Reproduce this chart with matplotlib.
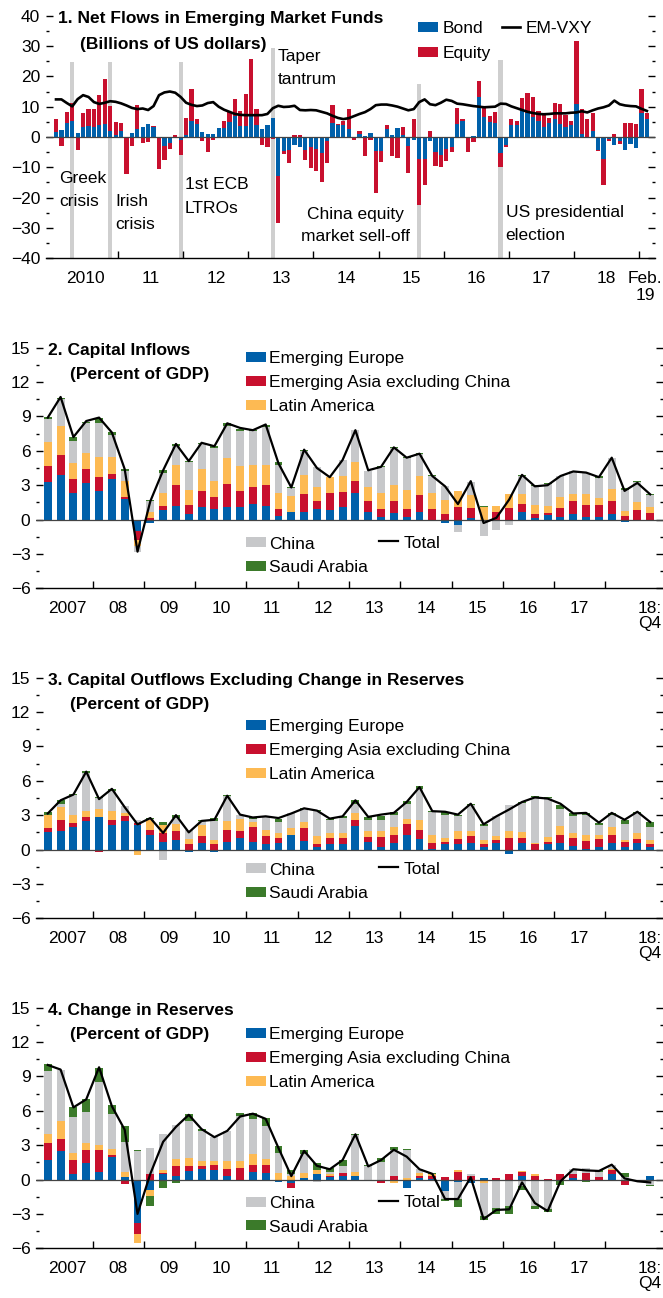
import matplotlib
matplotlib.use('Agg')
import matplotlib.pyplot as plt
import numpy as np
from matplotlib import font_manager as fm
from matplotlib.patches import Rectangle
from matplotlib.lines import Line2D

W, H, DPI = 663, 1298, 100
avail = {f.name for f in fm.fontManager.ttflist}
FAM = 'Liberation Sans' if 'Liberation Sans' in avail else 'DejaVu Sans'
plt.rcParams['font.family'] = [FAM, 'DejaVu Sans']
plt.rcParams['axes.unicode_minus'] = True

BLUE, RED, ORANGE, GRAY, GREEN = '#0060aa', '#c8102e', '#fdba53', '#c7c8ca', '#3b7a2a'
BAND = '#cfcfcf'

# ---------------- Panel 1 data (monthly, Jan 2010 - Feb 2019) ----------------
BOND = [1.7, 2.2, 4.7, 5.2, 1.2, 3.2, 3.7, 3.3, 3.9, 4.4,
        1.9, 0.8, 1.9, -0.3, 1.3, 2.8, 3.3, 4.2, 3.2, -0.3,
        -3.1, -2.0, 0.0, -0.9, 0.8, 5.3, 4.4, 1.6, 1.1, 1.1,
        3.0, 3.1, 5.0, 6.9, 3.5, 3.5, 7.3, 3.8, 2.5, 3.8,
        6.2, -13.0, -4.5, -4.3, -2.6, -3.3, -4.2, -3.3, -3.9, -5.3,
        -1.3, 4.5, 3.9, 3.9, 2.8, -0.3, 1.1, 0.4, 1.3, -4.7,
        -4.7, 2.8, 0.6, 3.1, 0.5, -3.1, -1.1, -7.2, -7.2, -1.3,
        -5.0, -6.1, -3.9, -3.3, 4.2, 5.3, 0.0, 0.4, 13.3, 6.7,
        5.0, 4.7, -5.3, -2.8, 3.9, 3.8, 8.7, 7.8, 6.7, 5.2,
        3.3, 4.7, 6.1, 4.4, 3.3, 3.8, 10.8, 1.0, 0.0, 2.0,
        -4.2, -7.2, -0.7, -2.8, -1.2, -4.2, -2.4, -3.6, 7.8, 5.8]
EQUITY = [4.1, -3.1, 3.7, 5.9, -4.4, 4.6, 5.4, 5.8, 9.9, 14.7,
          8.2, 4.2, 2.8, -12.0, -3.1, 7.6, -2.0, -1.8, 0.4, -10.3,
          -4.4, -2.1, 0.5, -5.2, 5.5, 10.5, 1.7, -1.4, -5.0, -1.1,
          -0.4, 2.2, 3.2, 5.5, 5.0, 10.6, 18.5, 5.4, -2.8, -3.3,
          -0.7, -15.5, -1.0, -4.3, 0.5, 0.8, -3.5, -6.9, -7.2, -9.5,
          -7.4, 6.2, 0.3, 1.5, 6.3, -0.6, 1.0, -6.4, -0.9, -13.8,
          -3.5, 1.3, -6.3, -6.9, 2.8, -8.7, 5.8, -15.2, -8.6, 2.0,
          -4.7, -3.9, -3.9, -1.7, 5.2, 0.5, -4.8, -1.6, 5.3, 3.1,
          1.9, 3.7, -4.7, -0.5, 1.9, 1.5, 4.1, 6.6, 6.4, 3.5,
          3.9, 1.7, 5.0, 6.4, 3.9, 1.5, 20.9, 8.3, 5.8, 6.0,
          -0.3, -8.6, -0.7, 1.1, -1.0, 4.7, 4.7, 4.4, 8.0, 2.0]
EMVXY = [12.4, 12.4, 11.2, 10.1, 12.5, 13.8, 13.2, 11.5, 10.9, 11.3,
         11.8, 11.6, 11.1, 10.4, 9.6, 9.2, 9.4, 8.9, 10.2, 13.8,
         14.7, 15.0, 14.6, 13.2, 11.3, 10.6, 10.2, 10.4, 11.2, 11.5,
         10.0, 9.0, 8.3, 7.6, 7.3, 7.2, 7.2, 7.2, 7.2, 7.6,
         9.5, 10.3, 9.9, 10.0, 10.3, 8.9, 8.8, 8.9, 8.8, 8.3,
         7.8, 7.0, 6.3, 5.9, 6.2, 6.9, 7.6, 8.2, 9.2, 10.5,
         10.7, 10.7, 10.4, 10.0, 9.4, 8.8, 9.2, 11.5, 12.4, 10.8,
         10.5, 11.3, 12.3, 11.9, 11.0, 10.8, 10.5, 10.2, 10.0, 9.8,
         9.9, 10.0, 11.0, 10.9, 10.1, 9.5, 8.9, 8.3, 7.9, 7.6,
         7.5, 7.6, 7.8, 7.8, 7.8, 8.0, 8.1, 8.5, 8.1, 8.8,
         9.4, 9.8, 10.4, 12.0, 10.8, 10.4, 10.2, 10.1, 9.3, 8.6]
EVENT_MONTH = [3, 10, 23, 40, 67, 82]
EVENT_TOP = [24.8, 24.8, 24.8, 29.5, 17.6, 25.5]
P1_YEAR_LABELS = ['2010', '11', '12', '13', '14', '15', '16', '17', '18', 'Feb.\n19']

# ---------------- Panels 2-4 data (quarterly, 2007Q1 - 2018Q4) ----------------
EUR2 = [3.3, 3.9, 2.3, 3.2, 2.5, 3.5, 1.8, -1.0, -0.3, 0.8, 1.2, 0.45, 1.1, 0.9, 1.1, 1.1, 1.4, 1.2, 0.35, 0.65,
        0.65, 0.9, 0.8, 1.1, 2.3, 0.7, 0.2, 0.6, 0.2, 0.7, 0.0, -0.3, -0.5, 0.1, 0.0, 0.0, 0.0, 0.65, 0.1, 0.4,
        0.25, 0.45, 0.25, 0.25, 0.45, -0.25, -0.15, 0.0]
ASIA2 = [1.4, 1.7, 1.2, 1.2, 1.2, 0.5, 0.2, -0.8, 0.15, 0.4, 1.8, 0.85, 1.4, 1.1, 2.0, 1.4, 1.4, 1.85, 0.6, 0.0,
         1.6, 0.7, 1.5, 1.3, 1.1, 0.9, 0.75, 1.0, 0.75, 1.4, 0.95, 0.45, 1.1, 0.9, 0.0, 0.65, 1.05, 0.75, 0.4, 0.15,
         0.75, 1.2, 1.05, 1.05, 1.2, 0.35, 0.8, 0.6]
LAT2 = [2.1, 2.6, 1.4, 1.4, 1.8, 1.5, 1.4, -0.5, 0.55, 1.1, 1.8, 1.3, 1.9, 1.4, 2.3, 2.2, 2.0, 1.75, 1.35, 1.4,
        1.6, 1.2, 1.4, 1.4, 1.6, 1.25, 1.35, 1.4, 1.6, 1.7, 1.35, 1.3, 1.4, 1.1, 1.1, 0.5, 1.15, 0.85, 0.75, 0.65,
        0.95, 0.55, 0.9, 0.55, 1.05, 0.4, 0.7, 0.5]
CHN2 = [2.0, 2.3, 2.0, 2.6, 2.9, 1.9, 0.8, -0.5, 0.9, 1.8, 1.6, 2.4, 2.2, 2.85, 2.8, 3.0, 2.9, 3.3, 2.5, 0.7,
        2.1, 1.8, 0.05, 1.4, 2.8, 1.35, 2.3, 3.25, 2.85, 1.95, 1.5, 1.15, -0.6, 1.2, -1.45, -0.95, -0.5, 1.55, 1.65, 1.9,
        1.85, 2.0, 1.9, 1.8, 2.7, 1.85, 1.8, 1.0]
SAU2 = [0.15, 0.15, 0.3, 0.15, 0.5, 0.2, 0.2, 0.0, 0.1, 0.2, 0.2, 0.15, 0.1, 0.15, 0.2, 0.2, 0.1, 0.15, 0.2, 0.05,
        0.1, 0.0, 0.0, 0.0, 0.05, 0.05, 0.05, 0.05, 0.05, 0.05, 0.05, 0.05, 0.0, 0.0, 0.05, 0.05, 0.0, 0.1, 0.15, 0.05,
        0.0, 0.0, 0.0, 0.15, 0.0, 0.15, 0.05, 0.15]
TOT2 = [8.9, 10.7, 7.2, 8.6, 8.9, 7.6, 4.4, -2.8, 1.6, 4.3, 6.6, 5.1, 6.7, 6.4, 8.4, 8.0, 7.8, 8.3, 4.9, 2.8,
        6.1, 4.5, 3.7, 5.2, 7.8, 4.3, 4.6, 6.3, 5.4, 5.75, 3.8, 2.9, 1.35, 3.35, -0.3, 0.15, 1.75, 3.9, 2.9, 3.0,
        3.8, 4.2, 4.1, 3.7, 5.4, 2.5, 3.2, 2.2]

EUR3 = [1.5, 1.6, 2.0, 2.5, 2.8, 2.1, 2.5, 2.15, 1.3, 0.65, 0.8, -0.25, 0.6, -0.25, 0.7, 1.05, 0.7, 0.45, 0.6, 1.25,
        0.75, 0.2, 0.5, 0.5, 2.05, 0.65, 0.25, 0.6, 1.25, 0.9, 0.05, 0.45, 0.45, 0.6, 0.25, 0.6, -0.4, 0.6, -0.15, 0.45,
        0.6, 0.35, 0.05, 0.25, 0.6, 0.2, 0.6, 0.25]
ASIA3 = [0.4, 0.95, 0.35, 0.35, -0.2, 0.5, 0.4, 0.15, 0.45, 0.8, 0.8, 0.45, 0.55, 0.45, 1.0, 0.6, 1.25, 0.7, 0.45, 0.0,
         1.15, 0.3, 0.5, 0.55, 0.55, 0.45, 0.85, 0.7, 1.0, 0.85, 0.5, 0.2, 0.45, 0.55, 0.25, 0.25, 1.0, 0.45, 0.45, 0.2,
         0.7, 0.7, 0.7, 0.65, 0.7, 0.45, 0.35, 0.25]
LAT3 = [1.1, 1.15, 0.7, 0.5, 0.75, 0.8, 0.3, -0.45, 0.85, 0.65, 0.65, 0.5, 0.95, 0.35, 0.8, 1.0, 0.45, 0.55, 0.4, 0.6,
        0.5, 0.65, 0.45, 0.4, 0.55, 0.55, 0.55, 0.7, 0.45, 0.85, 0.7, 0.35, 0.7, 0.45, 0.35, 0.3, 0.65, 0.45, 0.15, 0.45,
        0.75, 0.4, 0.55, 0.35, 0.65, 0.15, 0.5, 0.35]
CHN3 = [0.0, 0.3, 1.75, 3.35, 0.95, 1.75, 0.6, 0.3, 0.1, -0.95, 0.5, 0.75, 0.4, 1.7, 2.15, 0.35, 0.3, 1.2, 0.95, 1.3,
        1.1, 2.2, 1.1, 1.3, 0.85, 0.9, 0.9, 1.05, 1.25, 2.65, 2.0, 2.05, 1.3, 2.3, 1.2, 1.75, 2.2, 2.6, 4.0, 3.4,
        1.45, 1.45, 1.7, 0.85, 1.1, 1.4, 1.7, 1.1]
SAU3 = [0.25, 0.35, 0.05, 0.15, 0.05, 0.15, -0.05, -0.05, 0.05, 0.3, 0.25, 0.05, 0.05, 0.25, 0.1, 0.05, 0.15, 0.05, 0.3, 0.05,
        0.1, 0.1, 0.1, 0.15, 0.35, 0.3, 0.35, 0.2, 0.25, 0.3, 0.1, 0.2, 0.15, 0.1, 0.15, 0.05, 0.05, 0.05, 0.05, 0.05,
        0.4, 0.25, 0.2, 0.25, 0.15, 0.4, 0.15, 0.45]
TOT3 = [3.15, 4.3, 4.8, 6.8, 4.4, 5.3, 3.7, 2.2, 2.75, 1.45, 3.0, 1.5, 2.5, 2.6, 4.7, 3.05, 2.8, 2.9, 2.75, 3.15,
        3.6, 3.4, 2.7, 2.9, 4.3, 2.85, 3.05, 3.2, 4.15, 5.45, 3.35, 3.3, 3.05, 4.0, 2.2, 2.9, 3.5, 4.15, 4.55, 4.45,
        4.0, 3.15, 3.2, 2.35, 3.2, 2.6, 3.3, 2.4]

EUR4 = [1.75, 2.5, 0.5, 1.45, 0.7, 1.95, 0.25, -3.8, -0.95, 0.5, 0.35, 0.75, 0.95, 0.85, 0.35, -0.15, 0.7, 0.55, -0.2, -0.3,
        0.15, 0.5, 0.2, 0.35, 0.35, -0.1, 0.0, -0.15, -0.7, 0.15, 0.05, -1.0, -0.25, -0.3, 0.15, -0.15, 0.0, 0.35, 0.0, 0.0,
        0.0, 0.15, 0.0, 0.0, 0.45, 0.0, -0.05, 0.35]
ASIA4 = [1.4, 1.0, 1.25, 1.1, 1.85, 0.15, -0.35, -0.95, 0.5, 0.1, 0.8, 0.45, 0.25, 0.4, 0.6, 1.0, 0.55, 0.7, 0.0, -0.4,
         -0.1, 0.0, 0.15, 0.25, 0.0, 0.0, -0.3, 0.35, 0.0, 0.15, 0.25, 0.2, 0.65, 0.35, 0.0, 0.15, 0.45, 0.3, 0.35, 0.05,
         0.45, 0.3, 0.6, 0.2, 0.35, -0.45, 0.0, 0.0]
LAT4 = [0.85, 1.6, 0.6, 0.65, 0.5, 0.6, 0.4, -0.75, -0.45, 0.25, 0.65, 0.7, 0.4, 0.35, 0.7, 0.6, 0.95, 0.55, 0.6, 0.35,
        0.45, 0.35, 0.1, 0.0, 0.3, 0.0, 0.0, -0.15, 0.1, 0.3, 0.15, 0.0, 0.15, 0.0, -0.3, 0.0, 0.0, 0.1, 0.15, 0.0,
        0.0, 0.0, 0.0, -0.15, 0.15, 0.0, 0.0, 0.0]
CHN4 = [5.5, 4.5, 3.15, 2.7, 5.45, 3.0, 2.6, 2.5, 2.25, 3.15, 3.0, 3.2, 2.6, 2.1, 2.55, 3.95, 3.1, 2.85, 1.75, 0.1,
        1.65, -0.25, 0.2, 0.55, 3.25, 1.2, 1.55, 2.2, 2.45, 0.3, 0.0, -0.7, -1.45, 0.15, -2.9, -2.3, -2.35, -0.6, -2.35, -2.6,
        0.0, 0.45, 0.4, 0.5, 0.35, 0.25, -0.05, -0.45]
SAU4 = [0.55, 0.0, 0.85, 1.1, 1.25, 0.8, 1.4, 0.05, -0.9, -0.7, -0.3, 0.6, 0.25, 0.0, 0.05, 0.3, 0.55, 0.75, 0.55, 0.4,
        0.35, 0.6, 0.35, 0.55, 0.1, 0.05, 0.35, 0.3, 0.1, 0.0, 0.1, -0.2, -0.7, 0.0, -0.35, -0.55, -0.65, -0.35, -0.25, -0.25,
        -0.45, 0.0, -0.25, 0.15, -0.05, 0.35, -0.05, -0.15]
TOT4 = [10.0, 9.6, 6.3, 7.0, 9.8, 6.4, 4.35, -3.0, 0.5, 3.3, 4.6, 5.65, 4.4, 3.7, 4.25, 5.5, 5.75, 5.3, 2.75, 0.3,
        2.5, 1.2, 0.9, 1.7, 3.95, 1.15, 1.7, 2.6, 2.0, 0.9, 0.5, -1.7, -1.7, 0.2, -3.45, -2.65, -2.6, -0.25, -2.05, -2.75,
        -0.15, 0.9, 0.8, 0.75, 1.3, 0.1, -0.15, -0.25]

Q_YEAR_LABELS = ['2007', '08', '09', '10', '11', '12', '13', '14', '15', '16', '17', '18:\nQ4']
REGIONS = ['Emerging Europe', 'Emerging Asia excluding China', 'Latin America', 'China', 'Saudi Arabia']

fig = plt.figure(figsize=(W / DPI, H / DPI), dpi=DPI)
FS = 12.5
FSPX = FS * DPI / 72.0


def add_axes_px(left, top, right, bottom):
    return fig.add_axes([left / W, 1 - bottom / H, (right - left) / W, (bottom - top) / H])


def ptext(ax, x, yc, s, weight='normal', ha='left', z=0.5):
    # yc = visual centre of capitals in pixels
    ax.text(x / W, 1 - (yc + 0.36 * FSPX) / H, s, transform=fig.transFigure, fontsize=FS,
            fontweight=weight, ha=ha, va='baseline', zorder=z, clip_on=False)


def ppatch(ax, x, yc, color, w=20, h=10):
    ax.add_patch(Rectangle((x / W, 1 - (yc + h / 2) / H), w / W, h / H, transform=fig.transFigure,
                           facecolor=color, edgecolor='none', clip_on=False, zorder=0.5))


def pline(ax, x0, x1, y, lw):
    ax.add_line(Line2D([x0 / W, x1 / W], [1 - y / H, 1 - y / H], transform=fig.transFigure,
                       color='black', lw=lw, clip_on=False, zorder=0.5))


def stacked(ax, x, series, colors, width):
    pos = np.zeros(len(x))
    neg = np.zeros(len(x))
    for vals, c in zip(series, colors):
        v = np.asarray(vals, float)
        b = np.where(v >= 0, pos, neg)
        ax.bar(x, v, width, bottom=b, color=c, linewidth=0, zorder=2)
        pos = pos + np.clip(v, 0, None)
        neg = neg + np.clip(v, None, 0)


def style_axes(ax, ymin, ymax, ystep):
    for s in ['left', 'right', 'top']:
        ax.spines[s].set_visible(False)
    ax.spines['bottom'].set_color('black')
    ax.spines['bottom'].set_linewidth(1.0)
    ax.set_ylim(ymin, ymax)
    ax.set_yticks(np.arange(ymin, ymax + 0.01, ystep))
    ax.set_yticks(np.arange(ymin + ystep / 2, ymax, ystep), minor=True)
    ax.set_yticklabels([f'{int(v)}' if v >= 0 else '\u2212' + f'{int(-v)}'
                        for v in np.arange(ymin, ymax + 0.01, ystep)])
    ax.tick_params(axis='y', which='major', direction='in', length=5.2, width=1.0,
                   left=True, right=True, labelsize=FS, pad=4, colors='black')
    ax.tick_params(axis='y', which='minor', direction='in', length=2.4, width=1.0,
                   left=True, right=True)
    ax.tick_params(axis='x', which='major', direction='in', length=5, width=1.0,
                   bottom=True, top=False, labelbottom=False)
    ax.tick_params(axis='x', which='minor', length=0, labelsize=FS, pad=9)
    ax.axhline(0, color='#444444', lw=0.9, zorder=2.5)


# ---------------- Panel 1 ----------------
ax1 = add_axes_px(45.7, 15.7, 655, 258.3)
m = np.arange(len(BOND))
ax1.bar(EVENT_MONTH, np.array(EVENT_TOP) + 40, 0.75, bottom=-40, color=BAND, linewidth=0, zorder=1)
stacked(ax1, m, [BOND, EQUITY], [BLUE, RED], 0.78)
ax1.plot(m, EMVXY, color='black', lw=1.9, zorder=3, solid_joinstyle='round')
ax1.set_xlim(-1.9, 110.5)
style_axes(ax1, -40, 40, 10)
ax1.set_xticks(np.arange(11.5, 108, 12))
p1_label_pos = list(np.arange(5.5, 102, 12)) + [108.7]
ax1.set_xticks(p1_label_pos, minor=True)
ax1.set_xticklabels(P1_YEAR_LABELS, minor=True)

ptext(ax1, 58, 17, '1. Net Flows in Emerging Market Funds', weight='bold', z=4)
ptext(ax1, 80, 43, '(Billions of US dollars)', weight='bold', z=4)
ppatch(ax1, 418, 27, BLUE)
ptext(ax1, 443, 27, 'Bond', z=4)
ppatch(ax1, 418, 52, RED)
ptext(ax1, 443, 52, 'Equity', z=4)
pline(ax1, 502, 520, 27, 1.9)
ptext(ax1, 526, 27, 'EM-VXY', z=4)
for (x, y, s, ha) in [(59, 177, 'Greek', 'left'), (59, 200, 'crisis', 'left'),
                      (115, 200, 'Irish', 'left'), (115, 223, 'crisis', 'left'),
                      (185, 183, '1st ECB', 'left'), (185, 207, 'LTROs', 'left'),
                      (278, 55, 'Taper', 'left'), (278, 78, 'tantrum', 'left'),
                      (355.5, 213, 'China equity', 'center'), (355.5, 235, 'market sell-off', 'center'),
                      (505.7, 211, 'US presidential', 'left'), (505.7, 234, 'election', 'left')]:
    ptext(ax1, x, y, s, ha=ha, z=4)


# ---------------- Panels 2-4 ----------------
def quarter_panel(top_px, title, series, total, leg_top, leg_bot):
    ax = add_axes_px(36, top_px, 663, top_px + 240.6)
    q = np.arange(len(total))
    stacked(ax, q, series, [BLUE, RED, ORANGE, GRAY, GREEN], 0.62)
    ax.plot(q, total, color='black', lw=1.6, zorder=3, solid_joinstyle='round')
    ax.set_xlim(-0.92, 48.0)
    style_axes(ax, -6, 15, 3)
    ax.set_xticks(np.arange(3.5, 44, 4))
    lab_pos = list(np.arange(1.5, 42, 4)) + [47.0]
    ax.set_xticks(lab_pos, minor=True)
    ax.set_xticklabels(Q_YEAR_LABELS, minor=True, linespacing=1.05)
    ptext(ax, 48.3, top_px + 1.5, title, weight='bold')
    ptext(ax, 70, top_px + 24.6, '(Percent of GDP)', weight='bold')
    for i, (nm, c) in enumerate(zip(REGIONS[:3], [BLUE, RED, ORANGE])):
        y = leg_top + i * 23.9
        ppatch(ax, 246, y, c)
        ptext(ax, 269.3, y, nm)
    for i, (nm, c) in enumerate(zip(REGIONS[3:], [GRAY, GREEN])):
        y = leg_bot + i * 23.6
        ppatch(ax, 246, y, c)
        ptext(ax, 269.3, y, nm)
    pline(ax, 379, 398, leg_bot - 1, 1.6)
    ptext(ax, 404, leg_bot - 0.5, 'Total')
    return ax


quarter_panel(347.7, '2. Capital Inflows', [EUR2, ASIA2, LAT2, CHN2, SAU2], TOT2, 357, 542.3)
quarter_panel(677.7, '3. Capital Outflows Excluding Change in Reserves',
              [EUR3, ASIA3, LAT3, CHN3, SAU3], TOT3, 725, 868.3)
quarter_panel(1007.7, '4. Change in Reserves', [EUR4, ASIA4, LAT4, CHN4, SAU4], TOT4, 1032.7, 1201.7)

fig.savefig('out.png', dpi=DPI)
